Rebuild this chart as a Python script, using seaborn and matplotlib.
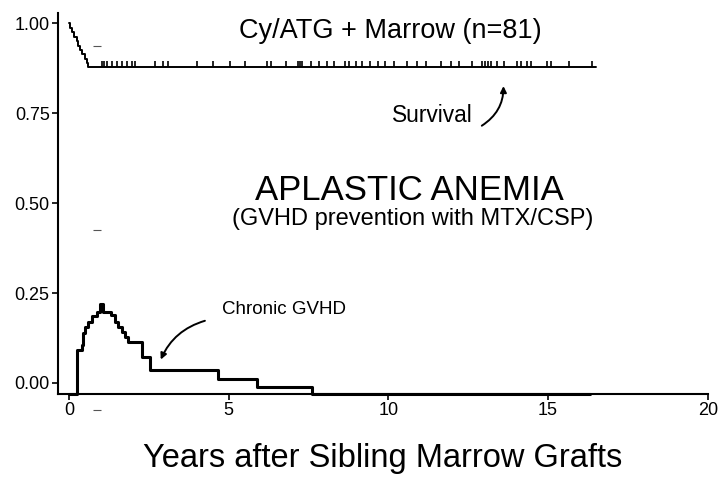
import numpy as np
import pandas as pd
import matplotlib
matplotlib.use("Agg")
import matplotlib.pyplot as plt
import seaborn as sns

# survival curve (Cy/ATG + marrow, n=81)
surv_years = [0.0, 0.03, 0.10, 0.17, 0.24, 0.29, 0.34, 0.40, 0.50, 0.55, 0.60, 16.5]
surv_prob = [1.000, 0.988, 0.975, 0.963, 0.951, 0.938, 0.926, 0.914, 0.901, 0.889, 0.877, 0.877]

# censored patients (tick marks on the survival line)
censor_years = [1.03, 1.09, 1.19, 1.34, 1.50, 1.66, 1.81, 1.97, 2.06, 2.69, 2.94, 3.09,
                4.00, 4.50, 5.03, 5.50, 6.19, 6.34, 6.81, 7.16, 7.22, 7.28, 7.59, 7.84,
                8.09, 8.31, 8.63, 8.78, 9.00, 9.16, 9.41, 9.66, 9.90, 10.16, 10.59, 10.88,
                11.19, 11.66, 11.97, 12.22, 12.63, 12.94, 13.03, 13.13, 13.22, 13.41, 13.63,
                14.03, 14.16, 14.34, 14.47, 14.97, 15.09, 15.66, 16.38]

# chronic GVHD curve
gvhd_years = [0.0, 0.24, 0.40, 0.45, 0.50, 0.60, 0.71, 0.89, 0.97, 1.07, 1.33, 1.44,
              1.54, 1.65, 1.75, 1.85, 2.30, 2.53, 4.66, 5.90, 7.60, 16.3]
gvhd_prob = [-0.03, 0.092, 0.106, 0.139, 0.156, 0.170, 0.186, 0.198, 0.219, 0.198, 0.189, 0.170,
             0.156, 0.142, 0.129, 0.115, 0.073, 0.036, 0.010, -0.012, -0.03, -0.03]

# stray dash marks in the scan
stray_x = [0.875, 0.875, 0.875]
stray_y = [0.936, 0.425, -0.075]

df_surv = pd.DataFrame({'years': surv_years, 'prob': surv_prob})
df_gvhd = pd.DataFrame({'years': gvhd_years, 'prob': gvhd_prob})

# y of each censor mark = survival level at that time
idx = np.searchsorted(surv_years, censor_years, side='right') - 1
censor_y = np.array(surv_prob)[idx]

sns.set_theme(style="ticks")
plt.rcParams['font.family'] = ['Liberation Sans', 'DejaVu Sans']
plt.rcParams['text.color'] = 'black'

fig = plt.figure(figsize=(7.26, 4.86), dpi=100)
ax = fig.add_axes([0.080, 0.189, 0.895, 0.784])

sns.lineplot(data=df_surv, x='years', y='prob', drawstyle='steps-post', estimator=None,
             color='black', linewidth=1.4, ax=ax)
ax.plot(censor_years, censor_y, linestyle='none', marker=2, markersize=4.5,
        markeredgewidth=1.2, color='black')
sns.lineplot(data=df_gvhd, x='years', y='prob', drawstyle='steps-post', estimator=None,
             color='black', linewidth=2.2, ax=ax)
ax.lines[-1].set_clip_on(False)
ax.plot(stray_x, stray_y, linestyle='none', marker='_', markersize=6,
        markeredgewidth=0.8, color='#555555', clip_on=False)

ax.set_xlim(-0.34, 20)
ax.set_ylim(-0.031, 1.028)
ax.set_xticks([0, 5, 10, 15, 20])
ax.set_yticks([0, 0.25, 0.5, 0.75, 1.0])
ax.set_yticklabels(['0.00', '0.25', '0.50', '0.75', '1.00'])
ax.tick_params(labelsize=13, length=4, width=1.2, colors='black', labelcolor='black', pad=2)
for s in ['left', 'bottom']:
    ax.spines[s].set_linewidth(1.5)
    ax.spines[s].set_color('black')
sns.despine(ax=ax)

ax.set_xlabel('Years after Sibling Marrow Grafts', fontsize=23.5, labelpad=17, color='black')
ax.set_ylabel('')

ax.text(10.06, 0.978, 'Cy/ATG + Marrow (n=81)', fontsize=19.5, ha='center', va='center')
ax.text(10.66, 0.536, 'APLASTIC ANEMIA', fontsize=25, ha='center', va='center')
ax.text(10.75, 0.455, '(GVHD prevention with MTX/CSP)', fontsize=17, ha='center', va='center')
ax.text(11.375, 0.744, 'Survival', fontsize=16.4, ha='center', va='center')
ax.text(4.78, 0.203, 'Chronic GVHD', fontsize=13.5, ha='left', va='center')

ax.annotate('', xy=(13.6, 0.833), xytext=(12.85, 0.711),
            arrowprops=dict(arrowstyle='-|>', color='black', lw=1.4, mutation_scale=9,
                            connectionstyle='arc3,rad=0.3'))
ax.annotate('', xy=(2.84, 0.058), xytext=(4.34, 0.175),
            arrowprops=dict(arrowstyle='-|>', color='black', lw=1.4, mutation_scale=9,
                            connectionstyle='arc3,rad=0.25'))

fig.savefig('out.png', dpi=100)
